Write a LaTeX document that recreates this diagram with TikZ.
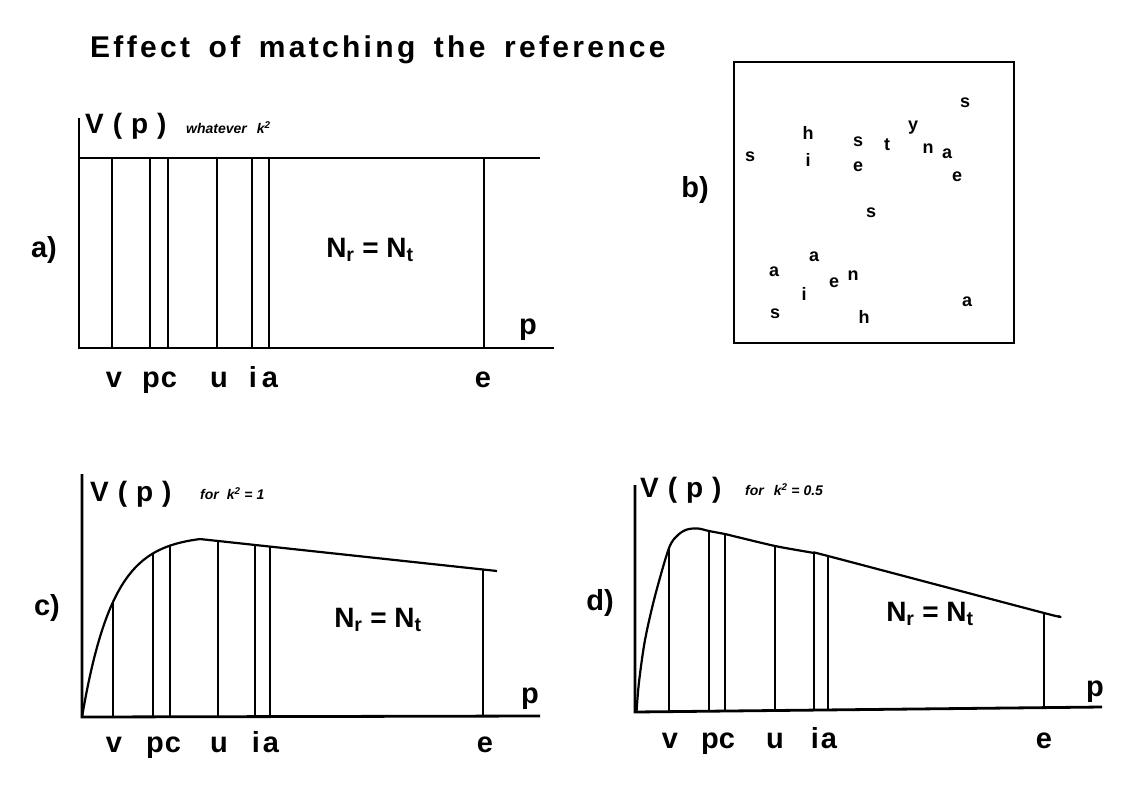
\documentclass[tikz,border=0pt]{standalone}
\usepackage{fontspec}
\usetikzlibrary{calc}
\setmainfont{Liberation Sans}
\newfontfamily\titlef{Liberation Sans}[LetterSpace=11, WordSpace=1.6]
\newfontfamily\vpf{Liberation Sans}[LetterSpace=32]
\begin{document}
\begin{tikzpicture}[x=1pt,y=-1pt,
  ax/.style={line width=2.8pt},
  vl/.style={line width=2.7pt},
  crv/.style={line width=2.2pt, line join=round},
  tk/.style={font=\fontsize{29}{30}\selectfont\bfseries, inner sep=0pt, anchor=base},
  plab/.style={font=\fontsize{29}{30}\selectfont\bfseries, inner sep=0pt},
  vp/.style={font=\vpf\fontsize{28}{30}\selectfont\bfseries, inner sep=0pt, anchor=west},
  sm/.style={font=\fontsize{14}{16}\selectfont\bfseries\itshape, inner sep=0pt, anchor=west},
  nn/.style={font=\fontsize{28}{30}\selectfont\bfseries, inner sep=0pt},
  bl/.style={font=\fontsize{18}{19}\selectfont\bfseries, inner sep=0pt},
  bbox/.style={line width=2.8pt},
  declare function={hc(\t)=182*(1-exp(-(\t-82)/31));}
]
\fill[white] (0,0) rectangle (1135,790);
\path[use as bounding box] (0,0) rectangle (1135,790);

% title
\node[font=\titlef\fontsize{30}{32}\selectfont\bfseries, anchor=base west, inner sep=0pt] (title) at (90,57) {Effect of matching the reference};

% ---------------- panel a ----------------
\coordinate (aO) at (79,348);
\coordinate (aYt) at (79,118);
\coordinate (aXe) at (554,348);
\coordinate (aTl) at (79,158);
\coordinate (aTr) at (540,158);
\draw[ax] (aYt) -- (aO) -- (aXe);
\draw[ax] (aTl) -- (aTr);
\foreach \n/\x in {v/112, p/150, c/168, u/217, i/252, a/269, e/484}{
  \coordinate (a\n b) at (\x,348);
  \coordinate (a\n t) at (\x,158);
  \draw[vl] (a\n b) -- (a\n t);
}
\foreach \n/\x in {v/114, p/151, c/169, u/219, i/253, a/270, e/483}{
  \node[tk] (al\n) at (\x,387) {\n};
}
\node[plab] (aP) at (528,330) {p};
\node[plab] (aLab) at (44,250) {a)};
\node[vp] (aV) at (85,126) {V(p)};
\node[sm] (aW) at (186,128) {whatever\hspace{10pt}k\textsuperscript{2}};
\node[nn] (aN) at (370,250) {N\textsubscript{r} = N\textsubscript{t}};

% ---------------- panel b ----------------
\draw[bbox] (734,62) rectangle (1014,343);
\foreach \l/\x/\y [count=\k] in {s/750/157, h/808/133, i/808/160, s/858/142, t/887/145,
  y/913/128, n/928/149, a/947/154, e/957/177, s/965/103, e/858/167, s/871/213,
  a/774/272, a/814/257, s/775/314, i/804/294, e/834/283, n/853/276, h/864/317, a/967/302}{
  \node[bl] (b\k) at (\x,\y) {\l};
}
\node[plab] (bLab) at (695,190) {b)};

% ---------------- panel c ----------------
\coordinate (cO) at (82,717);
\coordinate (cYt) at (82,474);
\coordinate (cXe) at (540,716);
\draw[ax] (cYt) -- (cO) -- (cXe);
\coordinate (cpk) at (200,{717-hc(200)});
\coordinate (cend) at (497,571);
\draw[crv] plot[domain=82:200, samples=80] (\x,{717-hc(\x)}) -- (cend);
\foreach \n/\x in {v/113, p/153, c/170}{
  \coordinate (c\n b) at (\x,717);
  \coordinate (c\n t) at (\x,{717-hc(\x)});
  \draw[vl] (c\n b) -- (c\n t);
}
\foreach \n/\f in {u/0.0606, i/0.1852, a/0.2357, e/0.9529}{
  \coordinate (c\n t) at ($(cpk)!\f!(cend)$);
  \coordinate (c\n b) at (c\n t |- cO);
  \draw[vl] (c\n b) -- (c\n t);
}
\foreach \n/\x in {v/114, p/155, c/173, u/219, i/256, a/271, e/485}{
  \node[tk] (cl\n) at (\x,752) {\n};
}
\node[plab] (cP) at (530,699) {p};
\node[plab] (cLab) at (47,608) {c)};
\node[vp] (cV) at (90,494) {V(p)};
\node[sm] (cW) at (200,494) {for\hspace{8pt}k\textsuperscript{2} = 1};
\node[nn] (cN) at (378,620) {N\textsubscript{r} = N\textsubscript{t}};

% ---------------- panel d ----------------
\coordinate (dO) at (635,712);
\coordinate (dYt) at (635,485);
\coordinate (dXe) at (1102,707);
\draw[ax] (dYt) -- (dO) -- (dXe);
\coordinate (dvt) at (669,548);
\coordinate (dpt) at (709,531);
\coordinate (dct) at (725,534);
\coordinate (dut) at (775,546);
\coordinate (dit) at (814,553);
\coordinate (dat) at (828,556);
\coordinate (det) at (1044,613);
\coordinate (dend) at (1058,616);
\draw[crv] plot[smooth, tension=0.5] coordinates {(636.5,712) (639,682) (645,640) (655,596) (dvt) (678,535) (687,529.5) (698,528.5) (dpt) (dct)};
\draw[crv] plot[smooth, tension=0.4] coordinates {(dct) (dut) (dit) (dat) (det) (dend)};
\foreach \n/\x in {v/669, p/709, c/725, u/775, i/814, a/828, e/1044}{
  \pgfmathsetmacro{\yb}{712-5*(\x-635)/467}
  \coordinate (d\n b) at (\x,\yb);
  \draw[vl] (d\n b) -- (d\n t);
}
\foreach \n/\x in {v/670, p/710, c/727, u/775, i/815, a/829, e/1044}{
  \node[tk] (dl\n) at (\x,748) {\n};
}
\node[plab] (dP) at (1095,692) {p};
\node[plab] (dLab) at (600,603) {d)};
\node[vp] (dV) at (640,490) {V(p)};
\node[sm] (dW) at (745,490) {for\hspace{10pt}k\textsuperscript{2} = 0.5};
\node[nn] (dN) at (930,614) {N\textsubscript{r} = N\textsubscript{t}};
\end{tikzpicture}
\end{document}
